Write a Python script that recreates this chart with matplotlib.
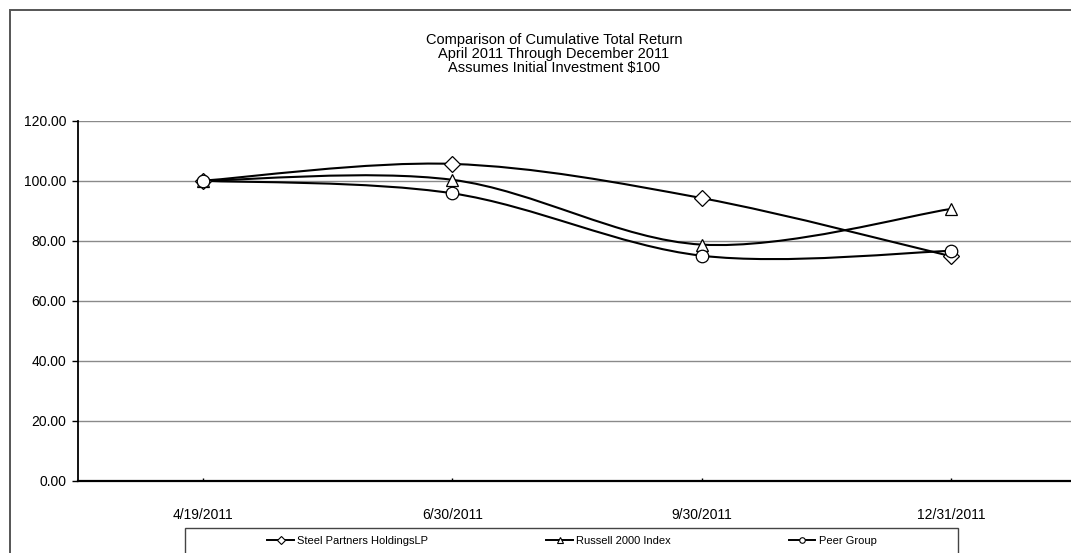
import matplotlib
matplotlib.use("Agg")
import matplotlib.pyplot as plt
import numpy as np
from matplotlib.path import Path
from matplotlib.patches import PathPatch, Rectangle
from matplotlib.lines import Line2D

plt.rcParams["font.family"] = ["Liberation Sans", "DejaVu Sans"]

# data
dates = ["4/19/2011", "6/30/2011", "9/30/2011", "12/31/2011"]
steel_partners = [100.0, 105.6, 94.2, 74.8]
russell_2000 = [100.0, 100.3, 78.7, 90.6]
peer_group = [100.0, 95.8, 75.0, 76.6]

series = [
    ("Steel Partners HoldingsLP", steel_partners, "D", 8),
    ("Russell 2000 Index", russell_2000, "^", 9),
    ("Peer Group", peer_group, "o", 9),
]


def smooth_path(x, y):
    """Excel-like smoothed line: cubic Bezier through the points."""
    pts = np.column_stack([x, y]).astype(float)
    n = len(pts)
    verts = [pts[0]]
    codes = [Path.MOVETO]
    for i in range(n - 1):
        p0 = pts[i - 1] if i > 0 else pts[i]
        p1, p2 = pts[i], pts[i + 1]
        p3 = pts[i + 2] if i + 2 < n else pts[i + 1]
        c1 = p1 + (p2 - p0) / 6.0
        c2 = p2 - (p3 - p1) / 6.0
        verts += [c1, c2, p2]
        codes += [Path.CURVE4] * 3
    return Path(verts, codes)


W, H = 1071, 553
fig = plt.figure(figsize=(W / 100, H / 100), dpi=100)

# outer chart border (runs off the right and bottom edges)
fig.patches.append(Rectangle((9.5 / W, -0.05), 1.1, 1 - 10 / H + 0.05,
                             transform=fig.transFigure, fill=False,
                             edgecolor="#555555", linewidth=1.4))
# legend box, also cut off at the bottom
fig.patches.append(Rectangle((185 / W, -0.05), 773 / W, 25 / H + 0.05,
                             transform=fig.transFigure, fill=False,
                             edgecolor="#444444", linewidth=1.0))

ax = fig.add_axes([78 / W, 1 - 480.7 / H, 998 / W, 360 / H])
x = np.arange(len(dates))

for label, values, marker, ms in series:
    ax.add_patch(PathPatch(smooth_path(x, values), facecolor="none",
                           edgecolor="black", linewidth=1.5, zorder=3))
    ax.plot(x, values, linestyle="none", marker=marker, markersize=ms,
            markerfacecolor="white", markeredgecolor="black",
            markeredgewidth=0.9, zorder=4)

ax.set_xlim(-0.5, len(dates) - 0.5)
ax.set_ylim(0, 120)
ax.set_yticks(np.arange(0, 121, 20))
ax.set_yticklabels([f"{v:.2f}" for v in np.arange(0, 121, 20)], fontsize=10)
ax.set_xticks(x)
ax.set_xticklabels(dates, fontsize=10)
ax.tick_params(axis="y", direction="out", length=4.5, width=1, pad=4)
ax.tick_params(axis="x", direction="in", length=2.5, width=1, pad=20)

ax.grid(axis="y", color="#8a8a8a", linewidth=1)
ax.set_axisbelow(True)
for side in ("top", "right"):
    ax.spines[side].set_visible(False)
ax.spines["left"].set_linewidth(1.3)
ax.spines["bottom"].set_linewidth(1.6)

fig.text(554 / W, 1 - 54 / H,
         "Comparison of Cumulative Total Return\n"
         "April 2011 Through December 2011\n"
         "Assumes Initial Investment $100",
         ha="center", va="center", fontsize=10.5, linespacing=1.0)

handles = [Line2D([], [], color="black", linewidth=1.4, marker=m,
                  markersize=4, markerfacecolor="white",
                  markeredgecolor="black", markeredgewidth=0.8)
           for _, _, m, _ in series]
fig.legend(handles, [s[0] for s in series], ncol=3,
           loc="center", bbox_to_anchor=(572 / W, 1 - 541 / H),
           fontsize=8, frameon=False, handlelength=2.4,
           handletextpad=0.3, columnspacing=10.6, borderaxespad=0)

fig.savefig("out.png", dpi=100)
